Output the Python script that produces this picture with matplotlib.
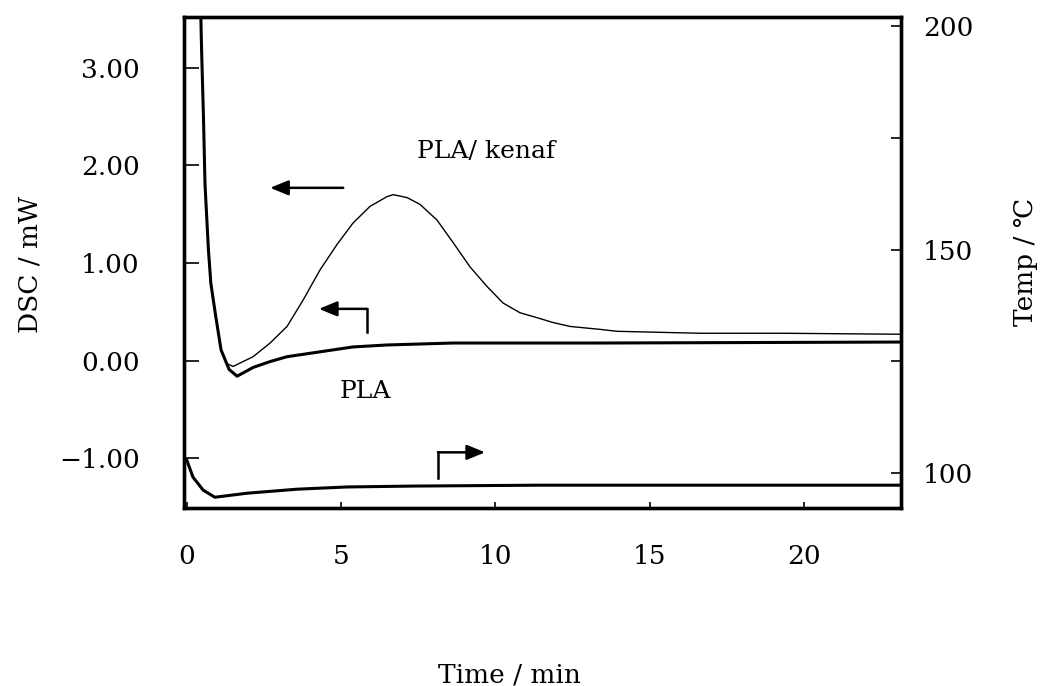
import matplotlib
matplotlib.use("Agg")
import matplotlib.pyplot as plt

# DSC traces (mW) vs time (min)
kenaf_t = [0.42, 0.48, 0.54, 0.59, 0.70, 0.78, 0.94, 1.11, 1.29, 1.50, 2.15,
           2.70, 3.25, 3.77, 4.32, 4.87, 5.39, 5.94, 6.49, 6.69, 7.14, 7.56,
           8.11, 8.63, 9.18, 9.73, 10.25, 10.80, 11.35, 11.87, 12.42, 13.39,
           13.95, 16.64, 19.33, 23.1]
kenaf_dsc = [4.0, 3.18, 2.50, 1.81, 1.14, 0.79, 0.45, 0.11, -0.03, -0.06, 0.04,
             0.18, 0.35, 0.62, 0.93, 1.19, 1.41, 1.58, 1.68, 1.70, 1.67, 1.60,
             1.44, 1.21, 0.96, 0.76, 0.59, 0.49, 0.44, 0.39, 0.35, 0.32,
             0.30, 0.28, 0.28, 0.27]

pla_t = [0.42, 0.48, 0.54, 0.59, 0.70, 0.78, 0.94, 1.11, 1.37, 1.63, 2.15,
         2.70, 3.25, 4.32, 5.39, 6.49, 8.63, 10.8, 13.39, 23.1]
pla_dsc = [4.0, 3.18, 2.50, 1.81, 1.14, 0.79, 0.45, 0.11, -0.09, -0.16, -0.07,
           -0.01, 0.04, 0.09, 0.14, 0.16, 0.18, 0.18, 0.18, 0.19]

# sample temperature (degC), right axis
temp_t = [0.0, 0.20, 0.53, 0.91, 1.95, 3.57, 5.19, 7.33, 11.45, 23.1]
temp_c = [102.9, 99.1, 96.2, 94.6, 95.5, 96.4, 96.9, 97.1, 97.3, 97.3]

x_ticks = [0, 5, 10, 15, 20]
dsc_ticks = [-1, 0, 1, 2, 3]
temp_ticks = [100, 125, 150, 175, 200]
temp_labels = ["100", "", "150", "", "200"]

plt.rcParams["font.family"] = ["DejaVu Serif", "DejaVu Sans"]
plt.rcParams["axes.unicode_minus"] = True

fig = plt.figure(figsize=(10.42, 6.86), dpi=100)
ax = fig.add_axes([0.1766, 0.2595, 0.6881, 0.7157])
ax2 = ax.twinx()

ax.plot(kenaf_t, kenaf_dsc, color="black", lw=1.0)
ax.plot(pla_t, pla_dsc, color="black", lw=2.2)
ax2.plot(temp_t, temp_c, color="black", lw=2.2)

ax.set_xlim(-0.09, 23.15)
ax.set_ylim(-1.51, 3.52)
ax2.set_ylim(92.2, 202.0)

ax.set_xticks(x_ticks)
ax.set_yticks(dsc_ticks)
ax.set_yticklabels([f"{v:.2f}".replace("-", "\u2212") for v in dsc_ticks])
ax2.set_yticks(temp_ticks)
ax2.set_yticklabels(temp_labels)

ax.tick_params(axis="y", direction="in", length=11, width=1.2, pad=32,
               labelsize=19)
ax.tick_params(axis="x", direction="in", length=4, width=1.2, pad=26,
               labelsize=19)
ax2.tick_params(axis="y", direction="in", length=7, width=1.2, pad=16,
                labelsize=19)

for a in (ax, ax2):
    for s in a.spines.values():
        s.set_linewidth(2.4)

# annotations
ax.text(9.71, 2.14, "PLA/ kenaf", fontsize=18, ha="center", va="center")
ax.text(5.78, -0.32, "PLA", fontsize=18, ha="center", va="center")

head = dict(arrowstyle="-|>,head_length=1.1,head_width=0.45",
            color="black", lw=1.8, shrinkA=0, shrinkB=0)
ax.annotate("", xy=(2.70, 1.77), xytext=(5.07, 1.77), arrowprops=head)

ax.plot([5.84, 5.84], [0.29, 0.53], color="black", lw=1.8)
ax.annotate("", xy=(4.28, 0.53), xytext=(5.84, 0.53), arrowprops=head)

ax.plot([8.14, 8.14], [-1.20, -0.94], color="black", lw=1.8)
ax.annotate("", xy=(9.67, -0.94), xytext=(8.14, -0.94), arrowprops=head)

fig.text(0.029, 0.614, "DSC / mW", rotation=90, fontsize=19,
         ha="center", va="center")
fig.text(0.984, 0.618, "Temp / \u2103", rotation=90, fontsize=19,
         ha="center", va="center")
fig.text(0.489, 0.016, "Time / min", fontsize=19, ha="center", va="center")

fig.savefig("out.png", dpi=100)
